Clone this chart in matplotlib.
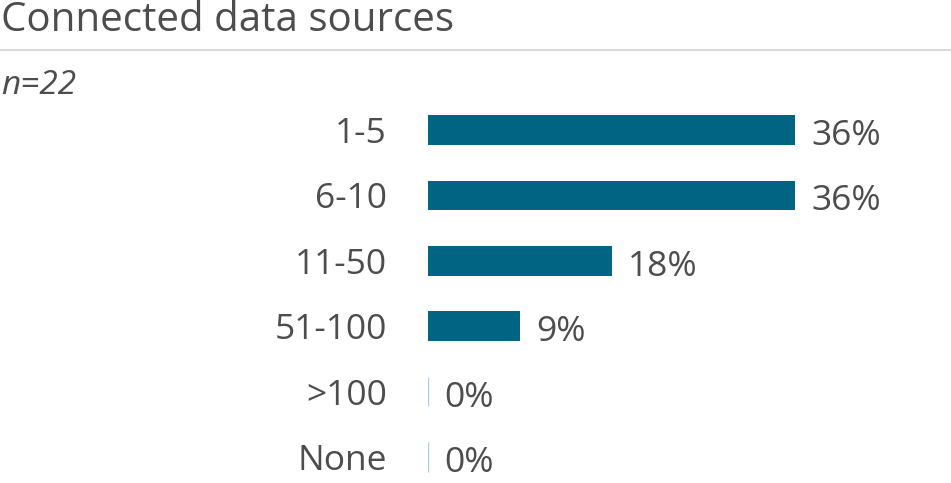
import matplotlib.pyplot as plt
from matplotlib.lines import Line2D

# ── Data ──────────────────────────────────────────────────────
categories = ['1-5', '6-10', '11-50', '51-100', '>100', 'None']
shares = [36, 36, 18, 9, 0, 0]
value_labels = ['36%', '36%', '18%', '9%', '0%', '0%']

plt.rcParams['font.family'] = ['Open Sans', 'DejaVu Sans']
text_color = '#4d4d4d'
bar_color = '#006482'

W, H = 951, 483
fig = plt.figure(figsize=(W / 100, H / 100), dpi=100)

# axes placed in pixel terms: x=0 at 428px, ~10.2px per %
row_h = 65.4
top_px = 130 - 0.5 * row_h
ymin, ymax = -0.5, 5.3
ax_h = (ymax - ymin) * row_h
xmax = 50
ax_w = xmax * 10.2
ax = fig.add_axes([428 / W, 1 - (top_px + ax_h) / H, ax_w / W, ax_h / H])

y = range(len(categories))
ax.barh(y, shares, height=0.45, color=bar_color)
for i, v in enumerate(shares):
    if v == 0:
        ax.barh(i, v, height=0.45, color='none', edgecolor='#a9cfdc', linewidth=1)

for i, (v, lab) in enumerate(zip(shares, value_labels)):
    ax.annotate(lab, (v, i), xytext=(16, -6), textcoords='offset pixels',
                ha='left', va='center', fontsize=25.5, color=text_color)

ax.set_xlim(0, xmax)
ax.set_ylim(ymax, ymin)
ax.set_yticks(list(y))
ax.set_yticklabels(categories, fontsize=25.5, color=text_color)
ax.tick_params(axis='y', length=0, pad=29.5)
ax.set_xticks([])
for s in ax.spines.values():
    s.set_visible(False)
ax.patch.set_alpha(0)

# ── Title block ───────────────────────────────────────────────
fig.text(1 / W, 1 - 21 / H, 'Connected data sources', fontsize=29,
         color=text_color, ha='left', va='center')
fig.add_artist(Line2D([0, 1], [1 - 50 / H, 1 - 50 / H], color='#d9d9d9',
                      linewidth=1.5, transform=fig.transFigure))
fig.text(1 / W, 1 - 85 / H, 'n=22', fontsize=24, style='italic',
         color=text_color, ha='left', va='center')

fig.savefig('out.png', dpi=100)
